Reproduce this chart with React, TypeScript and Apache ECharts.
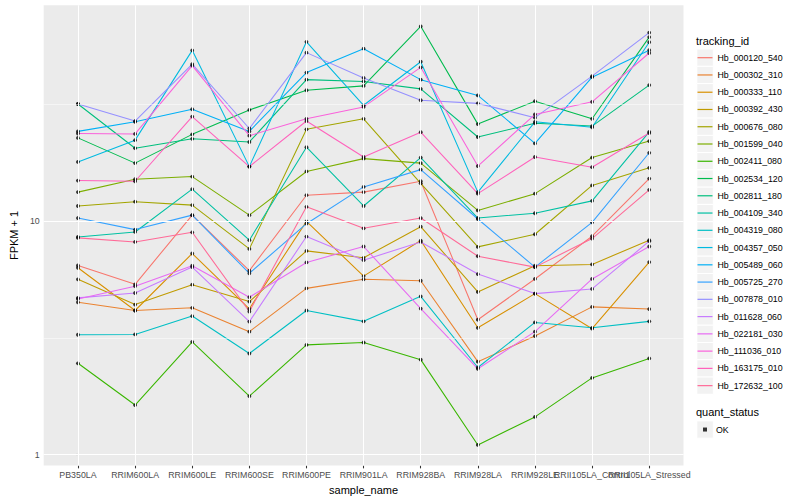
import React, { useEffect, useRef } from 'react';
import * as echarts from 'echarts';

const categories = ['PB350LA', 'RRIM600LA', 'RRIM600LE', 'RRIM600SE', 'RRIM600PE', 'RRIM901LA', 'RRIM928BA', 'RRIM928LA', 'RRIM928LE', 'RRII105LA_Control', 'RRII105LA_Stressed'];

const genes = ['Hb_000120_540', 'Hb_000302_310', 'Hb_000333_110', 'Hb_000392_430', 'Hb_000676_080', 'Hb_001599_040', 'Hb_002411_080', 'Hb_002534_120', 'Hb_002811_180', 'Hb_004109_340', 'Hb_004319_080', 'Hb_004357_050', 'Hb_005489_060', 'Hb_005725_270', 'Hb_007878_010', 'Hb_011628_060', 'Hb_022181_030', 'Hb_111036_010', 'Hb_163175_010', 'Hb_172632_100'];

const colors = ['#F8766D', '#EA8331', '#D89000', '#C09B00', '#A3A500', '#7CAE00', '#39B600', '#00BB4E', '#00BF7D', '#00C1A3', '#00BFC4', '#00BAE0', '#00B0F6', '#35A2FF', '#9590FF', '#C77CFF', '#E76BF3', '#FA62DB', '#FF62BC', '#FF6A98'];

// FPKM + 1 per sample, one array per gene
const Hb_000120_540 = [6.45, 5.36, 10.6, 6.13, 12.9, 13.3, 14.8, 3.78, 5.65, 8.61, 15.2];
const Hb_000302_310 = [4.49, 4.14, 4.25, 3.36, 5.15, 5.63, 5.55, 2.5, 3.22, 4.29, 4.2];
const Hb_000333_110 = [6.31, 4.14, 7.26, 4.21, 9.97, 5.81, 8.25, 3.49, 4.89, 3.46, 6.67];
const Hb_000392_430 = [5.63, 4.39, 5.34, 4.52, 7.45, 6.96, 9.46, 4.97, 6.44, 6.52, 8.28];
const Hb_000676_080 = [11.6, 12.1, 11.7, 7.6, 24.7, 27.4, 14.5, 7.75, 8.78, 14.2, 16.9];
const Hb_001599_040 = [13.3, 15.1, 15.5, 10.6, 16.3, 18.5, 17.7, 11.1, 13.1, 18.7, 22.0];
const Hb_002411_080 = [2.46, 1.63, 3.04, 1.78, 2.95, 3.02, 2.55, 1.1, 1.45, 2.13, 2.58];
const Hb_002534_120 = [22.7, 17.7, 23.5, 29.9, 36.3, 37.9, 68.2, 26.0, 32.6, 27.4, 61.3];
const Hb_002811_180 = [31.7, 20.5, 22.5, 21.8, 40.3, 39.6, 36.8, 22.9, 26.2, 25.5, 38.2];
const Hb_004109_340 = [8.55, 8.98, 13.7, 8.28, 20.7, 11.6, 18.7, 10.3, 10.8, 12.2, 24.1];
const Hb_004319_080 = [3.26, 3.27, 3.92, 2.71, 4.14, 3.72, 4.76, 2.36, 3.68, 3.49, 3.72];
const Hb_004357_050 = [17.9, 22.2, 53.8, 17.1, 58.5, 31.3, 48.1, 13.3, 26.6, 25.2, 58.3];
const Hb_005489_060 = [24.2, 26.6, 30.1, 24.2, 43.2, 54.7, 40.3, 34.5, 21.5, 41.3, 53.9];
const Hb_005725_270 = [10.3, 9.19, 10.6, 5.97, 9.74, 14.0, 16.6, 10.2, 6.35, 9.87, 19.6];
const Hb_007878_010 = [31.7, 26.8, 47.0, 24.9, 52.6, 41.0, 32.9, 31.9, 27.7, 41.7, 64.1];
const Hb_011628_060 = [4.69, 4.92, 6.35, 3.71, 8.58, 6.8, 8.14, 5.93, 4.89, 5.12, 8.2];
const Hb_022181_030 = [4.64, 5.26, 6.44, 4.72, 6.65, 7.78, 4.22, 2.33, 3.36, 5.65, 7.78];
const Hb_111036_010 = [23.7, 23.6, 46.3, 23.2, 27.4, 30.8, 45.5, 17.2, 28.6, 32.4, 52.4];
const Hb_163175_010 = [14.9, 14.8, 28.0, 17.1, 26.8, 18.8, 24.0, 13.1, 18.8, 17.0, 23.8];
const Hb_172632_100 = [8.47, 8.14, 8.95, 4.1, 11.5, 9.31, 10.3, 7.07, 6.35, 8.41, 13.6];

const values = [Hb_000120_540, Hb_000302_310, Hb_000333_110, Hb_000392_430, Hb_000676_080, Hb_001599_040, Hb_002411_080, Hb_002534_120, Hb_002811_180, Hb_004109_340, Hb_004319_080, Hb_004357_050, Hb_005489_060, Hb_005725_270, Hb_007878_010, Hb_011628_060, Hb_022181_030, Hb_111036_010, Hb_163175_010, Hb_172632_100];

const yMajor = [1, 10];
const yMinor = [Math.sqrt(10), 10 * Math.sqrt(10)];
const quantStatus = ['OK'];

const FONT = '"Liberation Sans", Arial, Helvetica, sans-serif';

export default function App() {
  const ref = useRef<HTMLDivElement>(null);
  useEffect(() => {
    const chart = echarts.init(ref.current!, null, { renderer: 'svg' });
    const catIdx = categories.map((_, i) => i);
    const evenIdx = catIdx.filter((i) => i % 2 === 0);
    const oddIdx = catIdx.filter((i) => i % 2 === 1);
    const white = '#FFFFFF';
    const keyTop = 49.07;
    const keyStep = 17.26;
    const okTop = 420.9;

    const keyRects: any[] = genes.map((_, i) => ({
      type: 'rect',
      z: 0,
      shape: { x: 696.8, y: keyTop + i * keyStep, width: 16.5, height: keyStep },
      style: { fill: '#F2F2F2', stroke: white, lineWidth: 1 },
    }));
    keyRects.push({
      type: 'rect',
      z: 0,
      shape: { x: 696.8, y: okTop, width: 16.5, height: keyStep },
      style: { fill: '#F2F2F2', stroke: white, lineWidth: 1 },
    });

    const points: number[][] = [];
    values.forEach((arr) => arr.forEach((v, i) => points.push([i, v])));

    const makeXAxis = (idx: number[], withName: boolean) => ({
      type: 'value',
      min: -0.6,
      max: 10.6,
      position: 'bottom',
      offset: 0,
      axisLine: { show: false },
      splitLine: { show: false },
      axisTick: { show: true, length: 2.75, lineStyle: { color: '#333333', width: 1.07 }, customValues: idx },
      axisLabel: {
        customValues: idx,
        formatter: (v: number) => categories[Math.round(v)] ?? '',
        color: '#4D4D4D',
        fontSize: 8.8,
        margin: 4.5,
        fontFamily: FONT,
        showMinLabel: true,
        showMaxLabel: true,
        hideOverlap: false,
      },
      name: withName ? 'sample_name' : '',
      nameLocation: 'middle',
      nameGap: 14,
      nameTextStyle: { fontSize: 11, color: '#000000', fontFamily: FONT },
    });

    const option: any = {
      animation: false,
      backgroundColor: '#FFFFFF',
      textStyle: { fontFamily: FONT },
      grid: {
        left: 35,
        top: 5.3,
        right: 116.5,
        bottom: 31.7,
        show: true,
        backgroundColor: '#EBEBEB',
        borderWidth: 0,
        containLabel: false,
      },
      xAxis: [makeXAxis(evenIdx, true), makeXAxis(oddIdx, false)],
      yAxis: {
        type: 'log',
        logBase: 10,
        min: 0.8974,
        max: 83.87,
        axisLine: { show: false },
        splitLine: { show: false },
        axisTick: { show: true, length: 2.75, lineStyle: { color: '#333333', width: 1.07 }, customValues: yMajor },
        axisLabel: {
          customValues: yMajor,
          formatter: (v: number) => {
            const m = yMajor.find((t) => Math.abs(v - t) < 1e-6 * t);
            return m !== undefined ? String(m) : '';
          },
          color: '#4D4D4D',
          fontSize: 8.8,
          margin: 4,
          fontFamily: FONT,
        },
        name: 'FPKM + 1',
        nameLocation: 'middle',
        nameGap: 17,
        nameRotate: 90,
        nameTextStyle: { fontSize: 11, color: '#000000', fontFamily: FONT },
      },
      legend: [
        {
          orient: 'vertical',
          left: 697.5,
          top: keyTop,
          padding: 0,
          itemGap: 0,
          itemWidth: 15,
          itemHeight: 1.2,
          icon: 'rect',
          selectedMode: false,
          data: genes,
          textStyle: { fontSize: 8.8, color: '#000000', fontFamily: FONT, lineHeight: keyStep },
        },
        {
          orient: 'vertical',
          left: 703,
          top: okTop,
          padding: 0,
          itemGap: 0,
          itemWidth: 4,
          itemHeight: 4,
          icon: 'rect',
          selectedMode: false,
          data: quantStatus,
          textStyle: { fontSize: 8.8, color: '#000000', fontFamily: FONT, lineHeight: keyStep, padding: [0, 0, 0, 4] },
        },
      ],
      graphic: [
        ...keyRects,
        {
          type: 'text',
          z: 1,
          x: 696,
          y: 40.7,
          style: { text: 'tracking_id', fontSize: 11, fontFamily: FONT, fill: '#000000', verticalAlign: 'middle', align: 'left' },
        },
        {
          type: 'text',
          z: 1,
          x: 696,
          y: 412.3,
          style: { text: 'quant_status', fontSize: 11, fontFamily: FONT, fill: '#000000', verticalAlign: 'middle', align: 'left' },
        },
      ],
      series: [
        {
          type: 'line',
          name: '__grid',
          data: [],
          z: 1,
          silent: true,
          markLine: {
            silent: true,
            symbol: ['none', 'none'],
            label: { show: false },
            emphasis: { disabled: true },
            data: [
              ...yMinor.map((v) => ({ yAxis: v, lineStyle: { color: white, width: 0.53, type: 'solid' } })),
              ...yMajor.map((v) => ({ yAxis: v, lineStyle: { color: white, width: 1.07, type: 'solid' } })),
              ...catIdx.map((i) => ({ xAxis: i, lineStyle: { color: white, width: 1.07, type: 'solid' } })),
            ],
          },
        },
        ...genes.map((g, k) => ({
          type: 'line',
          name: g,
          data: values[k].map((v, i) => [i, v]),
          showSymbol: false,
          symbol: 'none',
          z: 2,
          silent: true,
          lineStyle: { width: 1.07, color: colors[k] },
          itemStyle: { color: colors[k] },
        })),
        {
          type: 'scatter',
          name: 'OK',
          data: points,
          symbol: 'circle',
          symbolSize: 3.8,
          z: 3,
          silent: true,
          itemStyle: { color: '#000000' },
        },
      ],
    };
    chart.setOption(option);
    return () => chart.dispose();
  }, []);
  return <div ref={ref} style={{ position: 'fixed', left: 0, top: 0, width: 800, height: 500 }} />;
}
